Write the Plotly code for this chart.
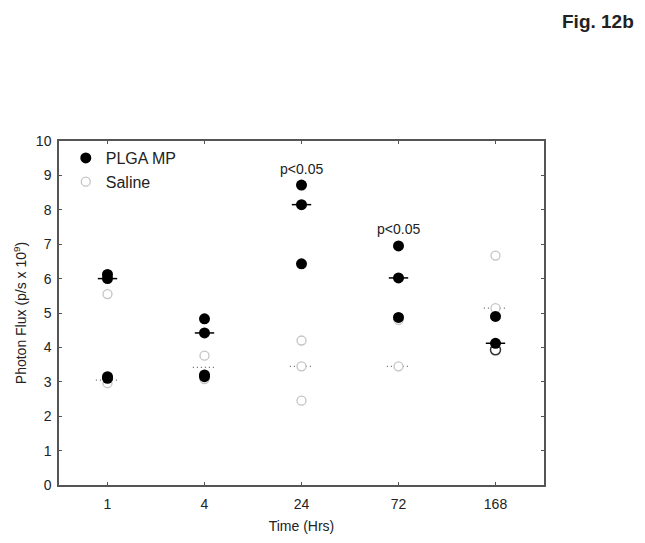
import plotly.graph_objects as go

# time points (categorical, evenly spaced)
times = ["1", "4", "24", "72", "168"]

# individual measurements, photon flux (p/s x 10^9)
plga_t = ["1", "1", "1", "1", "4", "4", "4", "4", "24", "24", "24", "72", "72", "72", "168", "168"]
plga_v = [6.12, 6.0, 3.15, 3.1, 4.83, 4.42, 3.2, 3.15, 8.72, 8.15, 6.43, 6.95, 6.02, 4.87, 4.9, 4.12]

saline_t = ["1", "1", "4", "4", "24", "24", "24", "72", "72", "168", "168"]
saline_v = [5.55, 2.96, 3.76, 3.08, 4.2, 3.45, 2.45, 4.8, 3.45, 6.67, 5.14]

# one open circle with dark outline at 168 hrs
open_t = ["168"]
open_v = [3.93]

# medians
plga_med = [6.0, 4.42, 8.15, 6.02, 4.12]
saline_med = [3.05, 3.42, 3.45, 3.45, 5.14]

# significance labels
sig_t = ["24", "72"]
sig_y = [9.2, 7.45]
sig_txt = ["p<0.05", "p<0.05"]

idx = {t: i for i, t in enumerate(times)}


def seg(meds, half):
    xs, ys = [], []
    for i, m in enumerate(meds):
        xs += [i - half, i + half, None]
        ys += [m, m, None]
    return xs, ys


fig = go.Figure()

sx, sy = seg(saline_med, 0.12)
fig.add_trace(go.Scatter(x=sx, y=sy, mode="lines", showlegend=False,
                         line=dict(color="#666666", width=1.2, dash="1px,3px")))

fig.add_trace(go.Scatter(x=[idx[t] for t in saline_t], y=saline_v, mode="markers",
                         name="Saline",
                         marker=dict(symbol="circle", size=9, color="white",
                                     line=dict(color="#c4c4c4", width=1.3))))
fig.add_trace(go.Scatter(x=[idx[t] for t in open_t], y=open_v, mode="markers",
                         showlegend=False,
                         marker=dict(symbol="circle", size=10, color="white",
                                     line=dict(color="#333333", width=1.5))))
fig.add_trace(go.Scatter(x=[idx[t] for t in plga_t], y=plga_v, mode="markers",
                         name="PLGA MP",
                         marker=dict(symbol="circle", size=11, color="black",
                                     line=dict(color="black", width=0))))

px_, py_ = seg(plga_med, 0.1)
fig.add_trace(go.Scatter(x=px_, y=py_, mode="lines", showlegend=False,
                         line=dict(color="black", width=1.5)))

for t, y, s in zip(sig_t, sig_y, sig_txt):
    fig.add_annotation(x=idx[t], y=y, text=s, showarrow=False,
                       font=dict(size=14, color="#222222"))

fig.add_annotation(x=1.0, y=1.0, xref="paper", yref="paper", xanchor="right",
                   text="<b>Fig. 12b</b>", showarrow=False, yanchor="top",
                   font=dict(size=19, color="#222222"),
                   xshift=92, yshift=132)

fig.update_layout(
    width=645, height=543,
    margin=dict(l=51, r=109, t=133, b=66),
    paper_bgcolor="white", plot_bgcolor="white",
    font=dict(family="Liberation Sans, Arial, sans-serif", color="#222222", size=14),
    legend=dict(x=0.014, y=1.0, xanchor="left", yanchor="top", traceorder="reversed",
                bgcolor="rgba(0,0,0,0)", font=dict(size=16), itemwidth=30,
                tracegroupgap=0),
    showlegend=True,
)
fig.update_xaxes(range=[-0.5, 4.5], tickvals=list(range(len(times))), ticktext=times,
                 showgrid=False, zeroline=False, showline=True, linecolor="#555555",
                 linewidth=1.5, mirror="ticks", ticks="inside", ticklen=3,
                 tickcolor="#555555", automargin=False, ticklabelstandoff=5,
                 title=dict(text="Time (Hrs)", font=dict(size=14), standoff=11))
fig.update_yaxes(range=[0, 10], dtick=1, showgrid=False, zeroline=False, showline=True,
                 linecolor="#555555", linewidth=1.5, mirror="ticks", ticks="inside",
                 ticklen=3, tickcolor="#555555", automargin=False, ticklabelstandoff=3,
                 title=dict(text="Photon Flux (p/s x 10<sup>9</sup>)", font=dict(size=14),
                            standoff=6))

fig.write_html("out.html")
